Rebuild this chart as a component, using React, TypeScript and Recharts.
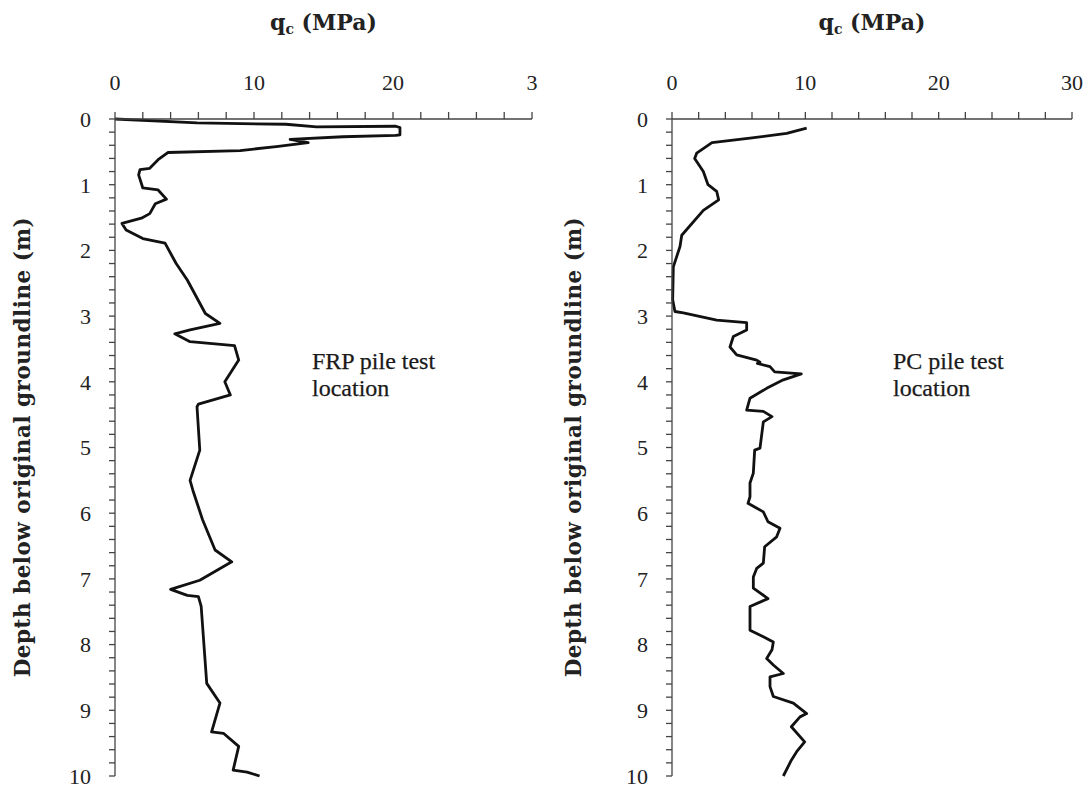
import React from "react";
import { LineChart, Line, XAxis, YAxis, Label } from "recharts";

// CPT profile at the FRP pile test location
const frpDepth = [
  0, 0.06, 0.08, 0.12, 0.11, 0.13, 0.24, 0.25, 0.27, 0.31, 0.36, 0.42, 0.48,
  0.51, 0.62, 0.75, 0.77, 0.85, 1.05, 1.08, 1.22, 1.29, 1.44, 1.51, 1.59, 1.69,
  1.82, 1.89, 2.2, 2.45, 2.96, 3.11, 3.21, 3.27, 3.39, 3.45, 3.67, 4.0, 4.2,
  4.34, 4.38, 5.04, 5.5, 5.65, 6.1, 6.56, 6.74, 7.02, 7.16, 7.25, 7.27, 7.42,
  8.59, 8.89, 9.33, 9.35, 9.55, 9.91, 9.94, 10.0,
];
const frpQc = [
  0, 5.9, 12.3, 14.5, 20.2, 20.5, 20.5, 20.2, 16.4, 12.6, 13.9, 11.6, 9.0,
  3.8, 3.1, 2.5, 1.8, 1.7, 2.0, 3.1, 3.7, 2.9, 2.5, 1.9, 0.5, 0.8,
  2.0, 3.6, 4.4, 5.2, 6.5, 7.55, 5.4, 4.3, 5.4, 8.6, 8.9, 7.9, 8.3,
  6.0, 5.9, 6.1, 5.4, 5.6, 6.3, 7.2, 8.4, 6.1, 4.0, 5.2, 6.0, 6.2,
  6.6, 7.55, 6.95, 7.8, 8.9, 8.5, 9.5, 10.4,
];

// CPT profile at the PC pile test location
const pcDepth = [
  0.14, 0.22, 0.29, 0.36, 0.52, 0.6, 0.8, 1.0, 1.1, 1.23, 1.39, 1.77, 1.94,
  2.25, 2.75, 2.93, 2.95, 3.06, 3.1, 3.21, 3.31, 3.47, 3.59, 3.67, 3.7, 3.72,
  3.77, 3.85, 3.88, 3.97, 4.1, 4.25, 4.43, 4.45, 4.53, 4.61, 5.01, 5.04, 5.39,
  5.54, 5.75, 5.85, 5.98, 6.13, 6.23, 6.36, 6.51, 6.76, 6.84, 6.97, 7.14, 7.3,
  7.42, 7.78, 7.88, 7.96, 8.08, 8.21, 8.31, 8.44, 8.49, 8.64, 8.79, 8.89, 9.05,
  9.1, 9.25, 9.48, 9.63, 9.76, 10.0,
];
const pcQc = [
  10.1, 8.6, 5.85, 3.0, 1.85, 1.7, 2.35, 2.7, 3.35, 3.5, 2.35, 0.73, 0.6,
  0.1, 0.05, 0.22, 0.85, 3.35, 5.6, 5.6, 4.6, 4.35, 4.85, 6.35, 6.6, 6.4,
  7.35, 7.7, 9.7, 8.35, 7.1, 5.85, 5.6, 6.85, 7.5, 6.85, 6.6, 6.2, 6.1,
  5.85, 5.85, 5.7, 6.85, 7.2, 8.1, 7.85, 6.95, 6.85, 6.35, 6.1, 6.1, 7.2,
  5.85, 5.85, 6.85, 7.6, 7.5, 7.1, 7.6, 8.35, 7.35, 7.35, 7.6, 9.1, 10.1,
  9.6, 8.95, 9.95, 9.35, 8.95, 8.35,
];

const qcMajor = [0, 10, 20, 30];
const frpQcLabels = ["0", "10", "20", "3"];
const pcQcLabels = ["0", "10", "20", "30"];

const qcTicks = Array.from({ length: 16 }, (_, i) => i * 2);
const depthTicks = Array.from({ length: 51 }, (_, i) => Math.round(i * 2) / 10);

const serif = "'Liberation Serif', 'Times New Roman', serif";
const wideSerif = "'DejaVu Serif', serif";
const axisColor = "#444";

type PanelProps = {
  depth: number[];
  qc: number[];
  qcLabels: string[];
  left: number;
  width: number;
  axisWidth: number;
  marginRight: number;
  yTitleX: number;
  note: string[];
  noteX: number;
};

function Panel({ depth, qc, qcLabels, left, width, axisWidth, marginRight, yTitleX, note, noteX }: PanelProps) {
  const rows = depth.map((d, i) => ({ depth: d, qc: qc[i] }));

  const qcFormat = (v: number) => {
    const idx = qcMajor.indexOf(v);
    return idx >= 0 ? qcLabels[idx] : "";
  };
  const depthFormat = (v: number) =>
    Math.abs(v - Math.round(v)) < 1e-6 ? String(Math.round(v)) : "";

  return (
    <div style={{ position: "absolute", left, top: 0, width, height: 792 }}>
      <LineChart
        width={width}
        height={792}
        data={rows}
        layout="vertical"
        margin={{ top: 0, right: marginRight, bottom: 16, left: 0 }}
      >
        <XAxis
          type="number"
          dataKey="qc"
          orientation="top"
          domain={[0, 30]}
          ticks={qcTicks}
          interval={0}
          height={119}
          tickSize={7}
          tickMargin={22}
          tickFormatter={qcFormat}
          stroke={axisColor}
          strokeWidth={1.3}
          tick={{ fill: "#222", fontSize: 22, fontFamily: serif }}
        >
          <Label
            content={(props: any) => {
              const vb = props.viewBox || {};
              return (
                <text
                  x={vb.x + vb.width / 2}
                  y={30}
                  textAnchor="middle"
                  fontFamily={wideSerif}
                  fontWeight="bold"
                  fontSize={22}
                  fill="#222"
                >
                  <tspan>q</tspan>
                  <tspan fontSize={14} dy={4}>c</tspan>
                  <tspan dy={-4}> (MPa)</tspan>
                </text>
              );
            }}
          />
        </XAxis>
        <YAxis
          type="number"
          dataKey="depth"
          domain={[0, 10]}
          ticks={depthTicks}
          interval={0}
          width={axisWidth}
          tickSize={6}
          tickMargin={18}
          tickFormatter={depthFormat}
          stroke={axisColor}
          strokeWidth={1.3}
          tick={{ fill: "#222", fontSize: 22, fontFamily: serif }}
        >
          <Label
            content={() => (
              <text
                x={yTitleX}
                y={447}
                transform={`rotate(-90 ${yTitleX} 447)`}
                textAnchor="middle"
                dominantBaseline="central"
                fontFamily={wideSerif}
                fontWeight="bold"
                fontSize={21.5}
                letterSpacing={0.5}
                fill="#222"
              >
                Depth below original groundline (m)
              </text>
            )}
          />
        </YAxis>
        <Line
          dataKey="qc"
          type="linear"
          stroke="#111"
          strokeWidth={2.8}
          strokeLinejoin="round"
          dot={false}
          isAnimationActive={false}
        />
      </LineChart>
      <div
        style={{
          position: "absolute",
          left: noteX - left,
          top: 348,
          fontFamily: serif,
          fontSize: 24,
          lineHeight: "27px",
          color: "#1a1a1a",
          WebkitTextStroke: "0.25px #1a1a1a",
        }}
      >
        {note.map((t) => (
          <div key={t}>{t}</div>
        ))}
      </div>
    </div>
  );
}

export default function App() {
  return (
    <div style={{ position: "absolute", left: 0, top: 0, width: 1091, height: 792, background: "#fff" }}>
      <Panel
        depth={frpDepth}
        qc={frpQc}
        qcLabels={frpQcLabels}
        left={0}
        width={560}
        axisWidth={115}
        marginRight={28}
        yTitleX={22}
        note={["FRP pile test", "location"]}
        noteX={312}
      />
      <Panel
        depth={pcDepth}
        qc={pcQc}
        qcLabels={pcQcLabels}
        left={540}
        width={551}
        axisWidth={132}
        marginRight={19}
        yTitleX={33}
        note={["PC pile test", "location"]}
        noteX={893}
      />
    </div>
  );
}
